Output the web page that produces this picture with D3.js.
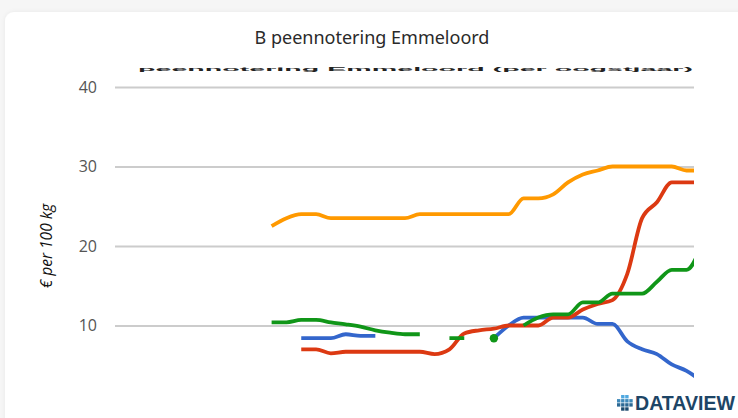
<!DOCTYPE html>
<html>
<head>
<meta charset="utf-8">
<script src="https://cdn.jsdelivr.net/npm/d3@7"></script>
<style>
  body { margin: 0; background: #f6f6f6; }
  svg { display: block; }
</style>
</head>
<body>
<div id="chart"></div>
<script>
// weeks of the harvest year (x categories, labels are cut off in the picture)
const weeks = [27, 28, 29, 30, 31, 32, 33, 34, 35, 36, 37, 38, 39, 40, 41, 42, 43, 44, 45, 46,
               47, 48, 49, 50, 51, 52, 1, 2, 3, 4, 5, 6, 7, 8, 9, 10, 11, 12, 13, 14];

const yTicks = [10, 20, 30, 40];

// € per 100 kg, one value per week, null = no quotation
const blue = [null, null, null, null, null, null, null, null, null, null, null, null, 8.4, 8.4, 8.4, 8.9, 8.7, 8.7, null, null,
              null, null, null, null, null, 8.4, 10, 11, 11, 11, 11, 11, 10.2, 10.2, 8, 7, 6.4, 5.1, 4.3, 3];
const red = [null, null, null, null, null, null, null, null, null, null, null, null, 7, 7, 6.5, 6.7, 6.7, 6.7, 6.7, 6.7,
             6.7, 6.4, 7, 9, 9.4, 9.6, 10, 10, 10, 11, 11, 12, 12.7, 13.2, 16.5, 23.5, 25.5, 28, 28, 28];
const orange = [null, null, null, null, null, null, null, null, null, null, 22.5, 23.5, 24, 24, 23.5, 23.5, 23.5, 23.5, 23.5, 23.5,
                24, 24, 24, 24, 24, 24, 24, 26, 26, 26.5, 28, 29, 29.5, 30, 30, 30, 30, 30, 29.5, 29.5];
const green = [null, null, null, null, null, null, null, null, null, null, 10.4, 10.4, 10.7, 10.7, 10.4, 10.15, 9.85, 9.4, 9.1, 8.9,
               8.9, null, 8.4, 8.4, null, 8.4, null, 10, 11, 11.4, 11.4, 12.9, 12.9, 14, 14, 14, 15.5, 17, 17, 20];

const seriesList = [
  { name: "blauw", color: "#3366cc", values: blue },
  { name: "rood", color: "#dc3912", values: red },
  { name: "oranje", color: "#ff9900", values: orange },
  { name: "groen", color: "#109618", values: green }
];

const width = 738, height = 418;
const plot = { left: 115, right: 694, top: 87, bottom: 405 };

const svg = d3.select("#chart").append("svg")
    .attr("width", width)
    .attr("height", height)
    .attr("viewBox", [0, 0, width, height]);

const defs = svg.append("defs");
const shadow = defs.append("filter").attr("id", "shadow")
    .attr("x", -0.05).attr("y", -0.05).attr("width", 1.1).attr("height", 1.1);
shadow.append("feDropShadow")
    .attr("dx", 0).attr("dy", 0).attr("stdDeviation", 2)
    .attr("flood-color", "#000").attr("flood-opacity", 0.06);

// white card
svg.append("rect")
    .attr("x", 5).attr("y", 12)
    .attr("width", 760).attr("height", 440)
    .attr("rx", 9)
    .attr("fill", "#fff")
    .attr("filter", "url(#shadow)");

svg.append("text")
    .attr("x", 372).attr("y", 44)
    .attr("text-anchor", "middle")
    .style("font", "18px 'Noto Sans', sans-serif")
    .attr("fill", "#2a2a2a")
    .text("B peennotering Emmeloord");

// title of the embedded chart, mostly hidden behind the header:
// only a thin sliver of it shows, so squash it flat
svg.append("g")
    .attr("transform", "translate(138,70.5) scale(1,0.2)")
  .append("text")
    .attr("x", 0).attr("y", 0)
    .attr("textLength", 555)
    .attr("lengthAdjust", "spacingAndGlyphs")
    .style("font", "bold 26px 'Liberation Sans', Arial, sans-serif")
    .attr("fill", "#222")
    .text("peennotering Emmeloord (per oogstjaar)");

const x = d3.scaleLinear()
    .domain([0, weeks.length - 2])
    .range([123.4, 123.4 + 14.82 * (weeks.length - 2)]);

const y = d3.scaleLinear()
    .domain([0, 40])
    .range([plot.bottom, plot.top]);

// gridlines + labels
const yAxis = svg.append("g")
    .attr("transform", `translate(${plot.left},0)`)
    .call(d3.axisLeft(y).tickValues(yTicks).tickSize(-(plot.right - plot.left)).tickPadding(18))
    .call(g => g.select(".domain").remove());

yAxis.selectAll(".tick line")
    .attr("stroke", "#cccccc")
    .attr("stroke-width", 2);

yAxis.selectAll(".tick text")
    .attr("fill", "#555")
    .style("font", "16px 'Open Sans', sans-serif");

svg.append("text")
    .attr("transform", `translate(52,246) rotate(-90)`)
    .attr("text-anchor", "middle")
    .style("font", "italic 15.5px 'Open Sans', sans-serif")
    .attr("fill", "#111")
    .text("€ per 100 kg");

defs.append("clipPath").attr("id", "plot-clip")
  .append("rect")
    .attr("x", plot.left).attr("y", 0)
    .attr("width", plot.right - plot.left).attr("height", height);

const line = d3.line()
    .defined(d => d != null)
    .x((d, i) => x(i))
    .y(d => y(d))
    .curve(d3.curveMonotoneX);

const lines = svg.append("g").attr("clip-path", "url(#plot-clip)");

seriesList.forEach(s => {
    lines.append("path")
        .attr("fill", "none")
        .attr("stroke", s.color)
        .attr("stroke-width", 3.8)
        .attr("stroke-linejoin", "round")
        .attr("d", line(s.values));

    // single quotations without neighbours are shown as a dot
    const lonely = s.values
        .map((v, i) => ({ v, i }))
        .filter(d => d.v != null && s.values[d.i - 1] == null && s.values[d.i + 1] == null);
    lines.selectAll(null)
        .data(lonely)
        .join("circle")
            .attr("cx", d => x(d.i))
            .attr("cy", d => y(d.v))
            .attr("r", 4.2)
            .attr("fill", s.color);
});

// DATAVIEW logo
const logo = svg.append("g").attr("transform", "translate(617,395)");
const cells = [];
for (let r = 0; r < 4; r++) {
    for (let c = 0; c < 4; c++) {
        if ((r === 0 || r === 3) && (c === 0 || c === 3)) continue;
        cells.push({ r, c });
    }
}
const cellColor = d3.scaleLinear().domain([0, 3]).range(["#4fa8e0", "#1b4a6e"]);
logo.selectAll("rect")
    .data(cells)
    .join("rect")
        .attr("x", d => d.c * 4.1)
        .attr("y", d => d.r * 4.1)
        .attr("width", 3.4)
        .attr("height", 3.4)
        .attr("fill", d => cellColor(d.r));

svg.append("text")
    .attr("x", 635).attr("y", 410)
    .attr("textLength", 100)
    .attr("lengthAdjust", "spacingAndGlyphs")
    .style("font", "bold 19.5px 'Liberation Sans', Arial, sans-serif")
    .attr("fill", "#1d4566")
    .text("DATAVIEW");
</script>
</body>
</html>
